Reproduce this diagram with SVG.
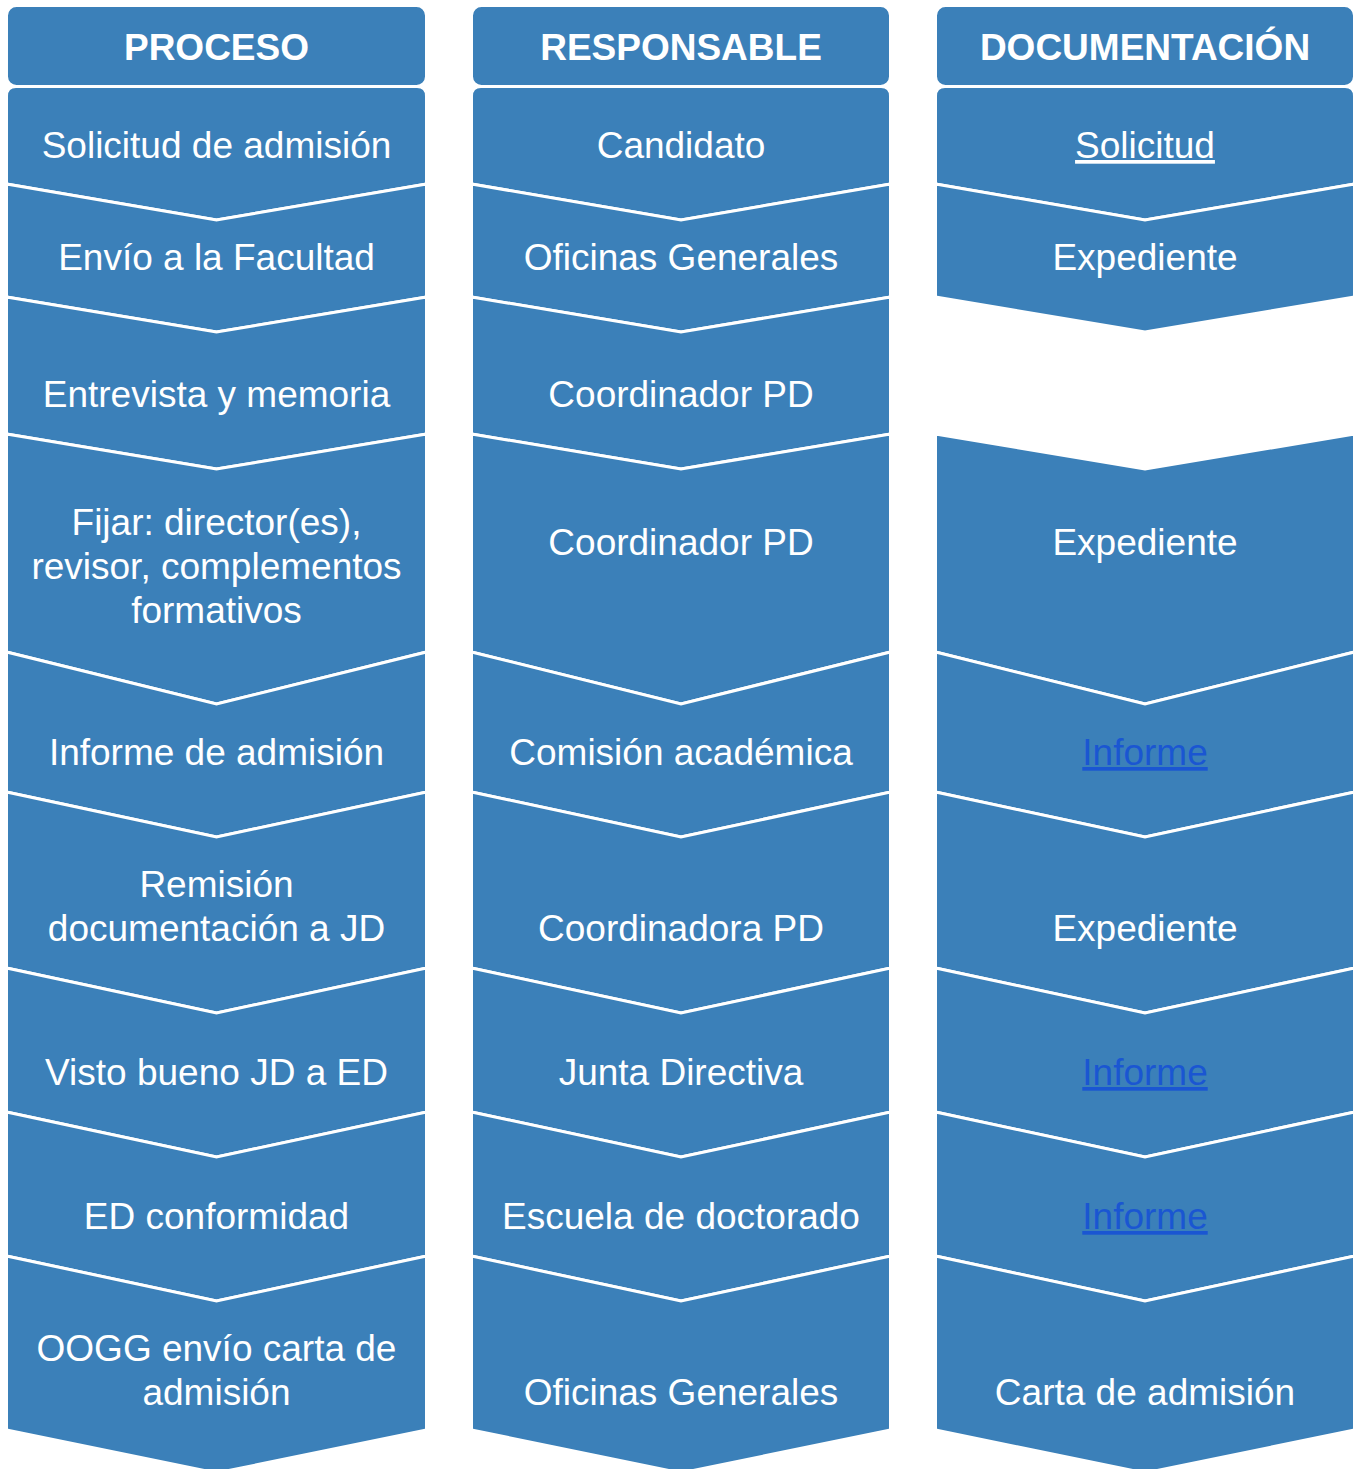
<svg xmlns="http://www.w3.org/2000/svg" width="1358" height="1469" viewBox="0 0 1358 1469">
<style>
.seg{fill:#3B80B9;stroke:#FFFFFF;stroke-width:3;stroke-linejoin:miter}
.hd{fill:#3B80B9;stroke:#FFFFFF;stroke-width:3}
.ht{font-family:"Liberation Sans",Arial,sans-serif;font-size:37px;font-weight:bold;fill:#FFFFFF;text-anchor:middle}
.t{font-family:"Liberation Sans",Arial,sans-serif;font-size:37px;fill:#FFFFFF;text-anchor:middle}
.lnk{fill:#1A56D2;text-decoration:underline}
.ul{text-decoration:underline}
</style>
<rect width="1358" height="1469" fill="#FFFFFF"/>
<g id="col-proceso">
<g id="h1"><rect class="hd" x="6.5" y="5.5" width="420" height="81" rx="10"/><text class="ht" x="216.5" y="60">PROCESO</text></g>
<g id="p1"><path class="seg" d="M6.5,96 Q6.5,86.5 16,86.5 L417,86.5 Q426.5,86.5 426.5,96 L426.5,184 L216.5,220 L6.5,184 Z"/><text class="t" x="216.5" y="158">Solicitud de admisión</text></g>
<g id="p2"><polygon class="seg" points="6.5,184 216.5,220 426.5,184 426.5,297 216.5,332 6.5,297"/><text class="t" x="216.5" y="270">Envío a la Facultad</text></g>
<g id="p3"><polygon class="seg" points="6.5,297 216.5,332 426.5,297 426.5,434 216.5,469 6.5,434"/><text class="t" x="216.5" y="407">Entrevista y memoria</text></g>
<g id="p4"><polygon class="seg" points="6.5,434 216.5,469 426.5,434 426.5,652 216.5,704 6.5,652"/><text class="t" x="216.5" y="535">Fijar: director(es),</text><text class="t" x="216.5" y="579">revisor, complementos</text><text class="t" x="216.5" y="623">formativos</text></g>
<g id="p5"><polygon class="seg" points="6.5,652 216.5,704 426.5,652 426.5,792 216.5,837 6.5,792"/><text class="t" x="216.5" y="765">Informe de admisión</text></g>
<g id="p6"><polygon class="seg" points="6.5,792 216.5,837 426.5,792 426.5,968 216.5,1013 6.5,968"/><text class="t" x="216.5" y="897">Remisión</text><text class="t" x="216.5" y="941">documentación a JD</text></g>
<g id="p7"><polygon class="seg" points="6.5,968 216.5,1013 426.5,968 426.5,1112 216.5,1157 6.5,1112"/><text class="t" x="216.5" y="1085">Visto bueno JD a ED</text></g>
<g id="p8"><polygon class="seg" points="6.5,1112 216.5,1157 426.5,1112 426.5,1256 216.5,1301 6.5,1256"/><text class="t" x="216.5" y="1229">ED conformidad</text></g>
<g id="p9"><polygon class="seg" points="6.5,1256 216.5,1301 426.5,1256 426.5,1430 216.5,1473 6.5,1430"/><text class="t" x="216.5" y="1361">OOGG envío carta de</text><text class="t" x="216.5" y="1405">admisión</text></g>
</g>
<g id="col-responsable">
<g id="h2"><rect class="hd" x="471.5" y="5.5" width="419" height="81" rx="10"/><text class="ht" x="681" y="60">RESPONSABLE</text></g>
<g id="r1"><path class="seg" d="M471.5,96 Q471.5,86.5 481,86.5 L881,86.5 Q890.5,86.5 890.5,96 L890.5,184 L681,220 L471.5,184 Z"/><text class="t" x="681" y="158">Candidato</text></g>
<g id="r2"><polygon class="seg" points="471.5,184 681,220 890.5,184 890.5,297 681,332 471.5,297"/><text class="t" x="681" y="270">Oficinas Generales</text></g>
<g id="r3"><polygon class="seg" points="471.5,297 681,332 890.5,297 890.5,434 681,469 471.5,434"/><text class="t" x="681" y="407">Coordinador PD</text></g>
<g id="r4"><polygon class="seg" points="471.5,434 681,469 890.5,434 890.5,652 681,704 471.5,652"/><text class="t" x="681" y="555">Coordinador PD</text></g>
<g id="r5"><polygon class="seg" points="471.5,652 681,704 890.5,652 890.5,792 681,837 471.5,792"/><text class="t" x="681" y="765">Comisión académica</text></g>
<g id="r6"><polygon class="seg" points="471.5,792 681,837 890.5,792 890.5,968 681,1013 471.5,968"/><text class="t" x="681" y="941">Coordinadora PD</text></g>
<g id="r7"><polygon class="seg" points="471.5,968 681,1013 890.5,968 890.5,1112 681,1157 471.5,1112"/><text class="t" x="681" y="1085">Junta Directiva</text></g>
<g id="r8"><polygon class="seg" points="471.5,1112 681,1157 890.5,1112 890.5,1256 681,1301 471.5,1256"/><text class="t" x="681" y="1229">Escuela de doctorado</text></g>
<g id="r9"><polygon class="seg" points="471.5,1256 681,1301 890.5,1256 890.5,1430 681,1473 471.5,1430"/><text class="t" x="681" y="1405">Oficinas Generales</text></g>
</g>
<g id="col-documentacion">
<g id="h3"><rect class="hd" x="935.5" y="5.5" width="419" height="81" rx="10"/><text class="ht" x="1145" y="60">DOCUMENTACIÓN</text></g>
<g id="d1"><path class="seg" d="M935.5,96 Q935.5,86.5 945,86.5 L1345,86.5 Q1354.5,86.5 1354.5,96 L1354.5,184 L1145,220 L935.5,184 Z"/><text class="t ul" x="1145" y="158">Solicitud</text></g>
<g id="d2"><polygon class="seg" points="935.5,184 1145,220 1354.5,184 1354.5,297 1145,332 935.5,297"/><text class="t" x="1145" y="270">Expediente</text></g>
<g id="d4"><polygon class="seg" points="935.5,434 1145,469 1354.5,434 1354.5,652 1145,704 935.5,652"/><text class="t" x="1145" y="555">Expediente</text></g>
<g id="d5"><polygon class="seg" points="935.5,652 1145,704 1354.5,652 1354.5,792 1145,837 935.5,792"/><text class="t lnk" x="1145" y="765">Informe</text></g>
<g id="d6"><polygon class="seg" points="935.5,792 1145,837 1354.5,792 1354.5,968 1145,1013 935.5,968"/><text class="t" x="1145" y="941">Expediente</text></g>
<g id="d7"><polygon class="seg" points="935.5,968 1145,1013 1354.5,968 1354.5,1112 1145,1157 935.5,1112"/><text class="t lnk" x="1145" y="1085">Informe</text></g>
<g id="d8"><polygon class="seg" points="935.5,1112 1145,1157 1354.5,1112 1354.5,1256 1145,1301 935.5,1256"/><text class="t lnk" x="1145" y="1229">Informe</text></g>
<g id="d9"><polygon class="seg" points="935.5,1256 1145,1301 1354.5,1256 1354.5,1430 1145,1473 935.5,1430"/><text class="t" x="1145" y="1405">Carta de admisión</text></g>
</g>
<g id="connectors"></g>
</svg>
